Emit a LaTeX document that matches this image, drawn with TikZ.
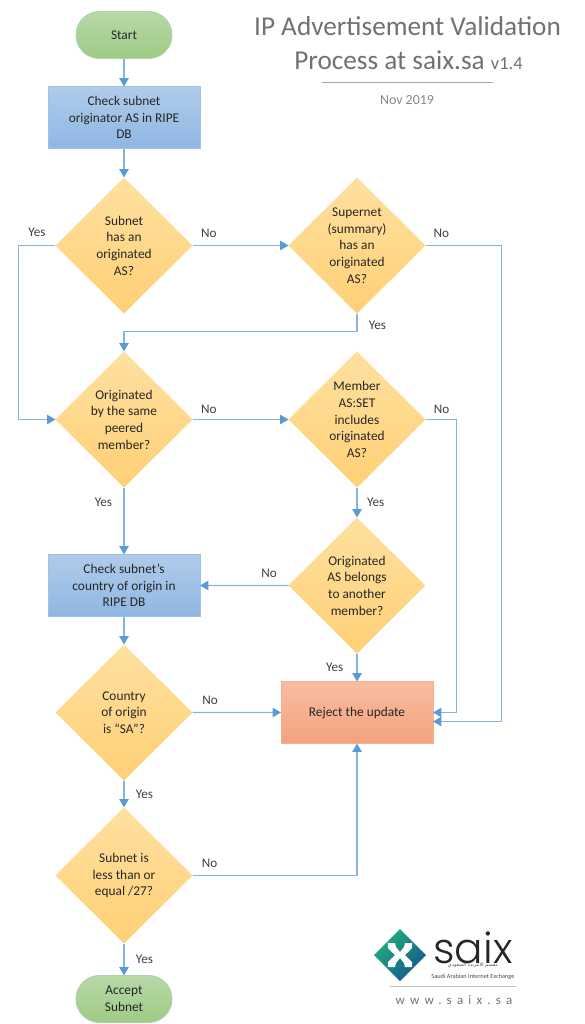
\documentclass[tikz,border=0pt]{standalone}
\usepackage{fontspec}
\setmainfont{Carlito}
\newfontfamily\logofont[UprightFont=* Light]{Poppins}
\newfontfamily\arabicfont[Script=Arabic]{DejaVu Sans}
\TeXXeTstate=1
\usepackage{xcolor}
\usetikzlibrary{positioning,arrows.meta,shapes.geometric}

\definecolor{flowline}{HTML}{5B9BD5}
\definecolor{paleline}{HTML}{85B4E3}
\definecolor{labelgray}{HTML}{404040}
\definecolor{titlegray}{HTML}{757070}
\definecolor{nodetext}{HTML}{262626}
\definecolor{logogreen}{HTML}{22B07A}
\definecolor{logoblue}{HTML}{14558F}

\begin{document}
\begin{tikzpicture}[
  font=\fontsize{7.6}{9.5}\selectfont,
  line/.style={-{Triangle[width=5.4pt,length=4.8pt,color=flowline]}, line width=0.6pt, draw=paleline},
  answer/.style={font=\fontsize{7.5}{9}\selectfont, text=labelgray, inner sep=1.5pt},
  terminal/.style={rounded corners=0.47cm, outer sep=0pt, draw=green!30!gray!50, line width=0.5pt, top color={rgb,255:red,184;green,216;blue,168}, bottom color={rgb,255:red,158;green,203;blue,133}, minimum width=1.92cm, minimum height=0.94cm, align=center, text=nodetext},
  process/.style={outer sep=0pt, draw={rgb,255:red,157;green,195;blue,230}, line width=0.5pt, top color={rgb,255:red,176;green,203;blue,234}, bottom color={rgb,255:red,143;green,183;blue,227}, minimum width=3.04cm, minimum height=1.24cm, inner sep=1pt, align=center, text=nodetext},
  reject/.style={process, draw={rgb,255:red,246;green,176;blue,140}, top color={rgb,255:red,247;green,189;blue,161}, bottom color={rgb,255:red,245;green,162;blue,125}},
  decision/.style={diamond, outer sep=0pt, top color={rgb,255:red,255;green,224;blue,160}, bottom color={rgb,255:red,255;green,208;blue,118}, aspect=1, inner sep=0pt, minimum width=2.74cm, minimum height=2.72cm, align=center, text=nodetext},
  heading/.style={font=\fontsize{15.5}{18}\selectfont, text=titlegray, inner sep=0pt}
]
\useasboundingbox (0,0) rectangle (11.68,-20.48);

% Main column
\node[terminal] (start) at (2.48,-0.70) {Start};
\node[process, below=0.56cm of start] (ripe) {Check subnet\\originator AS in RIPE\\DB};
\node[decision, below=0.58cm of ripe] (subnet) {Subnet\\has an\\originated\\AS?};
\node[decision, below=0.76cm of subnet] (same) {Originated\\by the same\\peered\\member?};
\node[process, below=1.34cm of same] (country) {Check subnet's\\country of origin in\\RIPE DB};
\node[decision, below=0.56cm of country] (origin) {Country\\of origin\\is ``SA''?};
\node[decision, below=0.54cm of origin] (length) {Subnet is\\less than or\\equal /27?};
\node[terminal, below=0.64cm of length] (accept) {Accept\\Subnet};

% Right column
\node[decision, right=1.92cm of subnet] (supernet) {Supernet\\(summary)\\has an\\originated\\AS?};
\node[decision, right=1.92cm of same] (asset) {Member\\AS:SET\\includes\\originated\\AS?};
\node[decision, below=0.60cm of asset] (another) {Originated\\AS belongs\\to another\\member?};
\node[reject, below=0.56cm of another] (update) {Reject the update};

% Title
\node[heading] (title) at (8.15,-0.52) {IP Advertisement Validation};
\node[heading] (titleb) at (8.17,-1.20) {Process at saix.sa {\fontsize{10.5}{12}\selectfont v1.4}};
\node[font=\fontsize{7.9}{9}\selectfont, text=titlegray!85, inner sep=0pt] (date) at (8.14,-2.00) {Nov 2019};
\draw[black!35, line width=0.45pt] (6.44,-1.64) -- (9.86,-1.64);

% Arrows
\draw[line] (start) -- (ripe);
\draw[line] (ripe) -- (subnet);
\draw[line] (subnet.west) -- node[answer, above, pos=0.5, yshift=3pt] {Yes} ++(-0.74,0) |- (same.west);
\draw[line] (subnet.east) -- node[answer, above, pos=0.17, yshift=2.5pt] {No} (supernet.west);
\draw[line] (supernet.east) -- node[answer, above, pos=0.21, yshift=2.5pt] {No} ++(1.52,0) |- ([yshift=-0.18cm]update.east);
\draw[line] (supernet.south) -- node[answer, right, pos=0.67, xshift=5pt] {Yes} ++(0,-0.36) -| (same.north);
\draw[line] (same.east) -- node[answer, above, pos=0.17, yshift=1.5pt] {No} (asset.west);
\draw[line] (asset.east) -- node[answer, above, pos=0.52, yshift=1.5pt] {No} ++(0.62,0) |- (update.east);
\draw[line] (asset) -- node[answer, right, pos=0.5, xshift=4pt] {Yes} (another);
\draw[line] (same) -- node[answer, left, pos=0.22, xshift=-5pt] {Yes} (country);
\draw[line] (another.west) -- node[answer, above, pos=0.22, yshift=2.5pt] {No} (country.east);
\draw[line] (another) -- node[answer, left, pos=0.5, xshift=-6pt] {Yes} (update);
\draw[line] (country) -- (origin);
\draw[line] (origin.east) -- node[answer, above, pos=0.2, yshift=2.5pt] {No} (update.west);
\draw[line] (origin) -- node[answer, right, pos=0.5, xshift=5pt] {Yes} (length);
\draw[line] (length.east) -| node[answer, above, pos=0.052, yshift=2.5pt] {No} (update.south);
\draw[line] (length) -- node[answer, right, pos=0.5, xshift=5pt] {Yes} (accept);

% Logo
\begin{scope}[shift={(8.00,-19.10)}, x=0.02cm, y=0.02cm]
  \shade[left color=logogreen, right color=logoblue, shading angle=45] (0,26) -- (26,0) -- (0,-26) -- (-26,0) -- cycle;
  \fill[white] (-12,12) -- (-5,12) -- (-4,8) -- (0,3) -- (4,8) -- (5,12) -- (12,12) -- (12,7) -- (5,0) -- (12,-7) -- (12,-12) -- (5,-12) -- (4,-8) -- (0,-3) -- (-4,-8) -- (-5,-12) -- (-12,-12) -- (-12,-7) -- (-5,0) -- (-12,7) -- cycle;
\end{scope}
\node[font=\fontsize{24}{24}\logofont, text=black!85, inner sep=0pt] (saix) at (9.46,-18.96) {saix};
\node[font=\arabicfont\fontsize{2.8}{3}\selectfont, text=black!70, inner sep=0pt] (saixar) at (9.46,-19.30) {\beginR مقسم الانترنت السعودي\endR};
\node[font=\fontsize{3.6}{4}\selectfont, text=black!70, inner sep=0pt] (saixen) at (9.46,-19.53) {Saudi Arabian Internet Exchange};
\draw[black!25, line width=0.45pt] (7.80,-19.72) -- (10.32,-19.72);
\node[font=\fontsize{7.4}{9}\selectfont\addfontfeature{LetterSpace=40}, text=black!55, inner sep=0pt] (web) at (9.08,-20.00) {www.saix.sa};
\end{tikzpicture}
\end{document}
